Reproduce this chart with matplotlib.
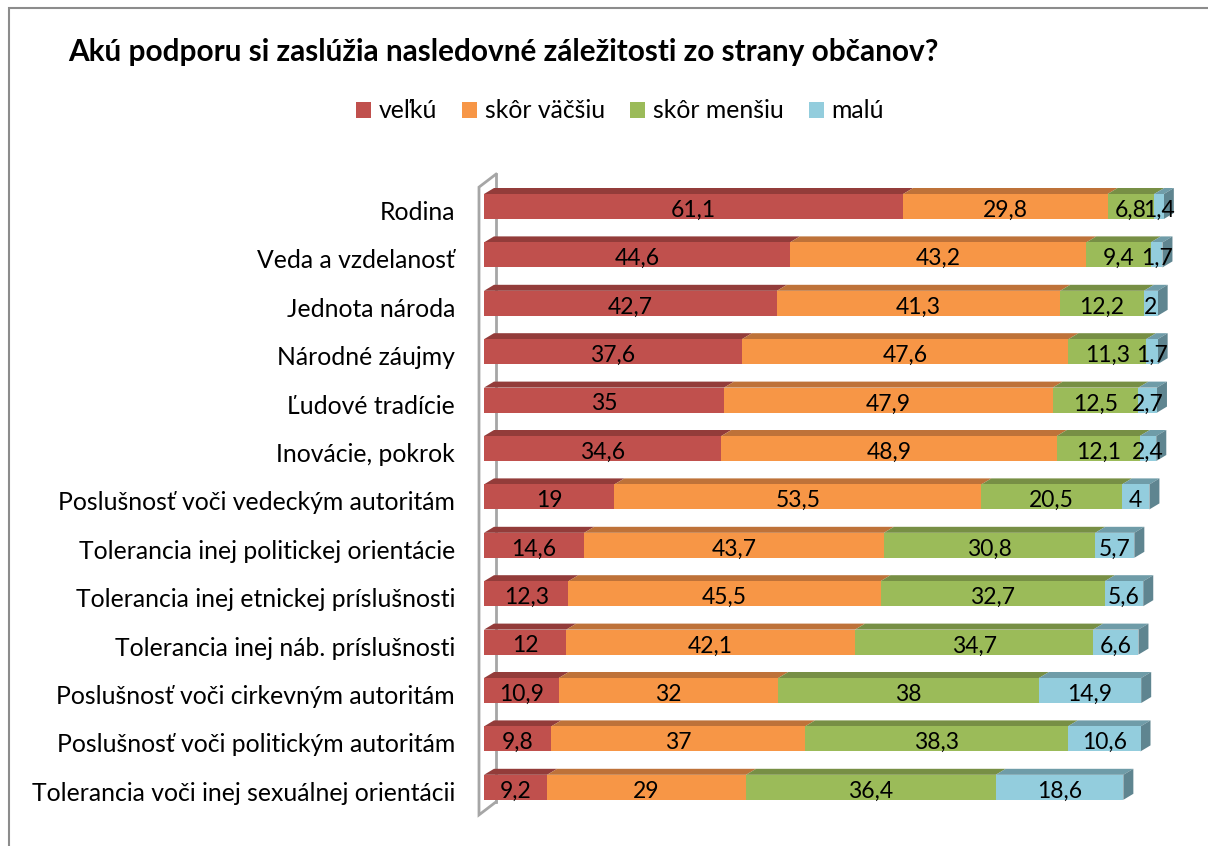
import matplotlib
matplotlib.use("Agg")
import matplotlib.pyplot as plt
from matplotlib.patches import Polygon, Rectangle
from matplotlib.transforms import ScaledTranslation
import numpy as np

plt.rcParams['font.family'] = ['Lato', 'DejaVu Sans']

title = "Akú podporu si zaslúžia nasledovné záležitosti zo strany občanov?"
categories = [
    "Rodina",
    "Veda a vzdelanosť",
    "Jednota národa",
    "Národné záujmy",
    "Ľudové tradície",
    "Inovácie, pokrok",
    "Poslušnosť voči vedeckým autoritám",
    "Tolerancia inej politickej orientácie",
    "Tolerancia inej etnickej príslušnosti",
    "Tolerancia inej náb. príslušnosti",
    "Poslušnosť voči cirkevným autoritám",
    "Poslušnosť voči politickým autoritám",
    "Tolerancia voči inej sexuálnej orientácii",
]
series_names = ["veľkú", "skôr väčšiu", "skôr menšiu", "malú"]
velku = [61.1, 44.6, 42.7, 37.6, 35, 34.6, 19, 14.6, 12.3, 12, 10.9, 9.8, 9.2]
skor_vacsiu = [29.8, 43.2, 41.3, 47.6, 47.9, 48.9, 53.5, 43.7, 45.5, 42.1, 32, 37, 29]
skor_mensiu = [6.8, 9.4, 12.2, 11.3, 12.5, 12.1, 20.5, 30.8, 32.7, 34.7, 38, 38.3, 36.4]
malu = [1.4, 1.7, 2, 1.7, 2.7, 2.4, 4, 5.7, 5.6, 6.6, 14.9, 10.6, 18.6]

front_colors = ["#C0504D", "#F79646", "#9BBB59", "#93CDDD"]
top_colors = ["#933C3A", "#BE7239", "#778F45", "#6F9CA8"]
side_color = "#5F8590"

W, H = 1208, 846
fig = plt.figure(figsize=(W / 100, H / 100), dpi=100)

# axes placed so that 0..100 spans the plotting band
x0_px, px_per_unit = 484, 6.86
row_px = 48.4
top_px = 206.5 - row_px / 2
n = len(categories)
ax = fig.add_axes([x0_px / W, 1 - (top_px + n * row_px) / H,
                   100 * px_per_unit / W, n * row_px / H])
ax.set_xlim(0, 100)
ax.set_ylim(n - 0.5, -0.5)
ax.axis('off')

bar_h = 25 / row_px
dx = 10 / px_per_unit
dy = 6 / row_px

data = np.array([velku, skor_vacsiu, skor_mensiu, malu])
y = np.arange(n)
left = np.zeros(n)

# back wall of the 3D frame
wdx, wdy = 17 / px_per_unit, 13 / row_px
wx = -5 / px_per_unit
wtop, wbot = -0.4, 12.57
ax.plot([wx + wdx, wx + wdx], [wtop - wdy, wbot - wdy], color="#A6A6A6", lw=2,
        clip_on=False, zorder=0.5)
ax.plot([wx + wdx, wx, wx, wx + wdx], [wtop - wdy, wtop, wbot, wbot - wdy],
        color="#A6A6A6", lw=2, clip_on=False, zorder=5, solid_joinstyle='miter')

for k in range(4):
    vals = data[k]
    ax.barh(y, vals, left=left, height=bar_h, color=front_colors[k],
            edgecolor='none', zorder=2, label=series_names[k])
    for i in range(n):
        l, r = left[i], left[i] + vals[i]
        t = y[i] - bar_h / 2
        ax.add_patch(Polygon([(l, t), (r, t), (r + dx, t - dy), (l + dx, t - dy)],
                             closed=True, facecolor=top_colors[k], edgecolor='none',
                             zorder=1.5, clip_on=False))
        if k == 3:
            b = y[i] + bar_h / 2
            ax.add_patch(Polygon([(r, t), (r + dx, t - dy), (r + dx, b - dy), (r, b)],
                                 closed=True, facecolor=side_color, edgecolor='none',
                                 zorder=1.5, clip_on=False))
        txt = f"{vals[i]:g}".replace('.', ',')
        ax.text((l + r) / 2, y[i] + 0.08, txt, ha='center', va='center',
                fontsize=16.5, color='black', zorder=6, clip_on=False)
    left = left + vals

# category labels
lab_off = ScaledTranslation(0, -6 / 100, fig.dpi_scale_trans)
for i, c in enumerate(categories):
    ax.text(-29 / px_per_unit, y[i], c, ha='right', va='center', fontsize=17.8,
            color='black', transform=ax.transData + lab_off)

fig.text(68 / W, 1 - 52 / H, title, ha='left', va='center', fontsize=21.4,
         fontweight='bold', color='black')

handles, labels = ax.get_legend_handles_labels()
fig.legend(handles, labels, loc='center', bbox_to_anchor=(620 / W, 1 - 111 / H),
           ncol=4, frameon=False, fontsize=17.8, handlelength=0.6, handleheight=0.6,
           handletextpad=0.32, columnspacing=1.02)

# outer chart frame
fig.add_artist(Rectangle((9 / W, -0.05), 1.2, 1 - 8 / H + 0.05, transform=fig.transFigure,
                         fill=False, edgecolor="#8C8C8C", lw=1.5))

fig.savefig("out.png", dpi=100)
